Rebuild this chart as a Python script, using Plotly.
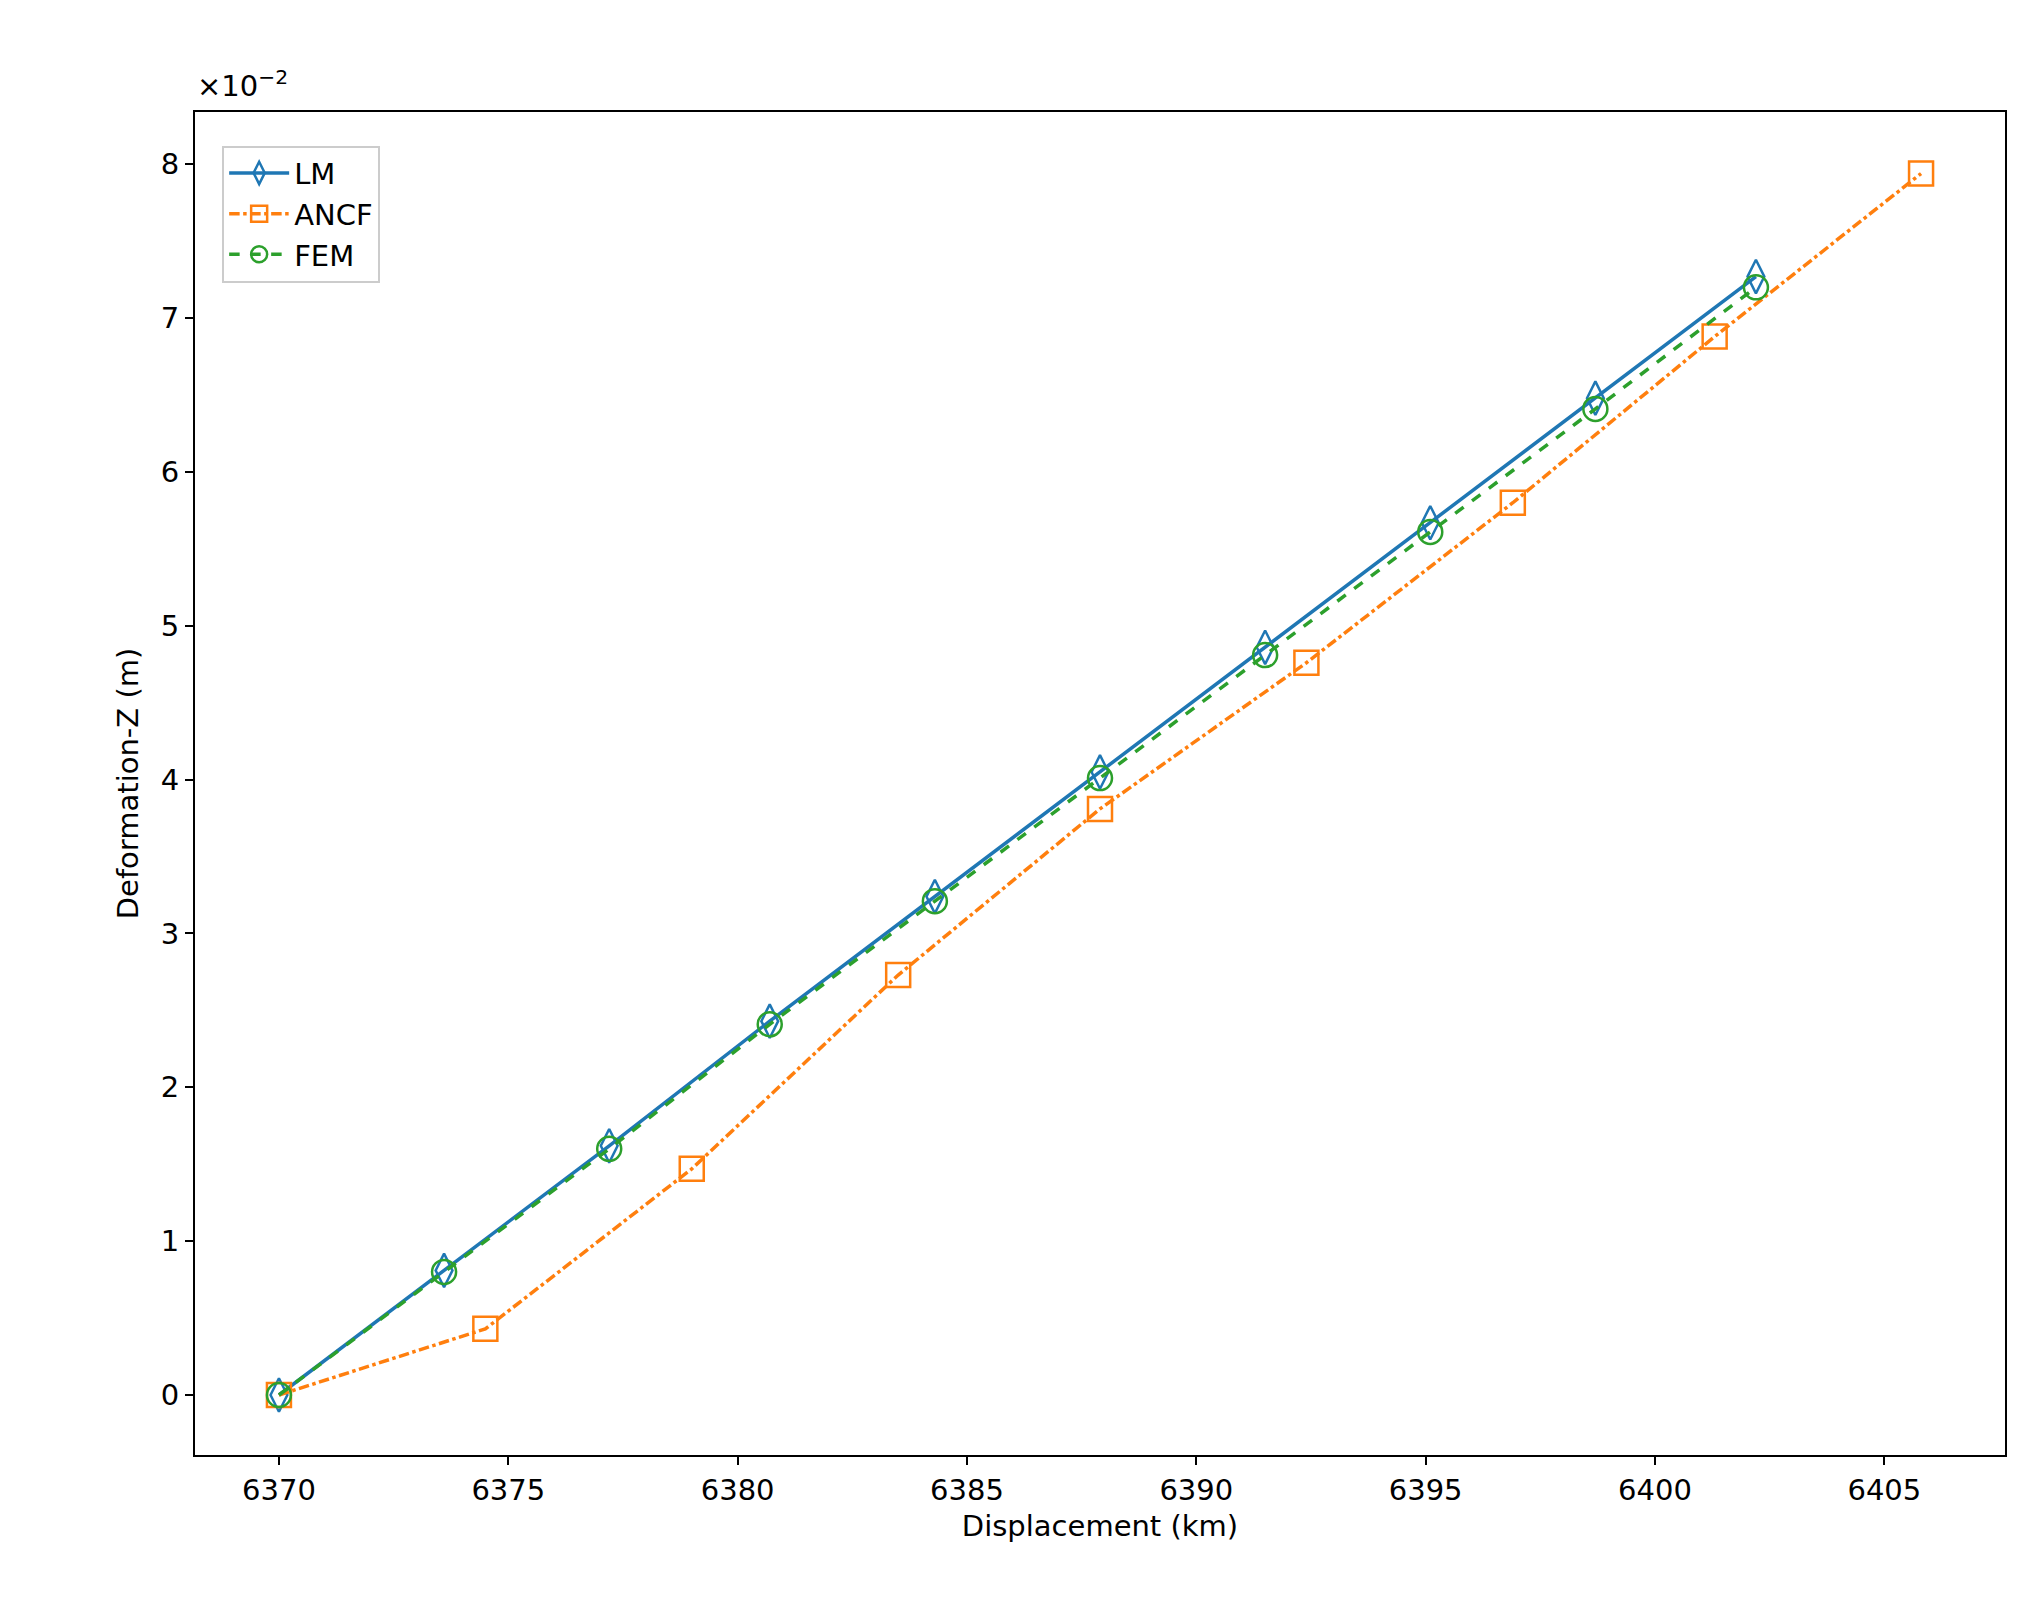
import plotly.graph_objects as go

# values (y in units of 1e-2 m)
lm_x = [6370, 6373.6, 6377.2, 6380.7, 6384.3, 6387.9, 6391.5, 6395.1, 6398.7, 6402.2]
lm_y = [0, 0.81, 1.62, 2.43, 3.24, 4.05, 4.86, 5.67, 6.48, 7.27]
fem_x = lm_x
fem_y = [0, 0.80, 1.60, 2.41, 3.21, 4.01, 4.81, 5.61, 6.41, 7.20]
ancf_x = [6370, 6374.5, 6379.0, 6383.5, 6387.9, 6392.4, 6396.9, 6401.3, 6405.8]
ancf_y = [0, 0.43, 1.47, 2.73, 3.81, 4.76, 5.80, 6.88, 7.94]

blue, orange, green = '#1f77b4', '#ff7f0e', '#2ca02c'

fig = go.Figure()
fig.add_trace(go.Scatter(x=lm_x, y=lm_y, name='LM', mode='lines+markers',
                         line=dict(color=blue, width=3.5),
                         marker=dict(symbol='diamond-tall-open', size=24, color=blue, line=dict(width=2.5))))
fig.add_trace(go.Scatter(x=ancf_x, y=ancf_y, name='ANCF', mode='lines+markers',
                         line=dict(color=orange, width=3.5, dash='dashdot'),
                         marker=dict(symbol='square-open', size=24, color=orange, line=dict(width=2.5))))
fig.add_trace(go.Scatter(x=fem_x, y=fem_y, name='FEM', mode='lines+markers',
                         line=dict(color=green, width=3.5, dash='dash'),
                         marker=dict(symbol='circle-open', size=24, color=green, line=dict(width=2.5))))

axis = dict(showgrid=False, zeroline=False, showline=True, linecolor='black', linewidth=2,
            mirror=True, ticks='outside', ticklen=8, tickwidth=2, tickcolor='black',
            tickfont=dict(size=29, color='black'))
fig.update_layout(
    width=2038, height=1622, template='simple_white', plot_bgcolor='white', paper_bgcolor='white',
    font=dict(family='DejaVu Sans', color='black', size=29),
    margin=dict(l=187, r=41, t=104, b=175),
    xaxis=dict(axis, range=[6368.17, 6407.63], tickvals=list(range(6370, 6406, 5)),
               title=dict(text='Displacement (km)', font=dict(size=29), standoff=10)),
    yaxis=dict(axis, range=[-0.39, 8.34], tickvals=list(range(0, 9)),
               title=dict(text='Deformation-Z (m)', font=dict(size=29), standoff=14)),
    legend=dict(x=0.015, y=0.975, xanchor='left', yanchor='top', bgcolor='white',
                bordercolor='#cccccc', borderwidth=2, font=dict(size=29), itemwidth=60),
    showlegend=True,
)
fig.add_annotation(text='×10<sup>−2</sup>', xref='paper', yref='paper', x=0, y=1.005,
                   xanchor='left', yanchor='bottom', showarrow=False, font=dict(size=29))
fig.write_html("out.html")
